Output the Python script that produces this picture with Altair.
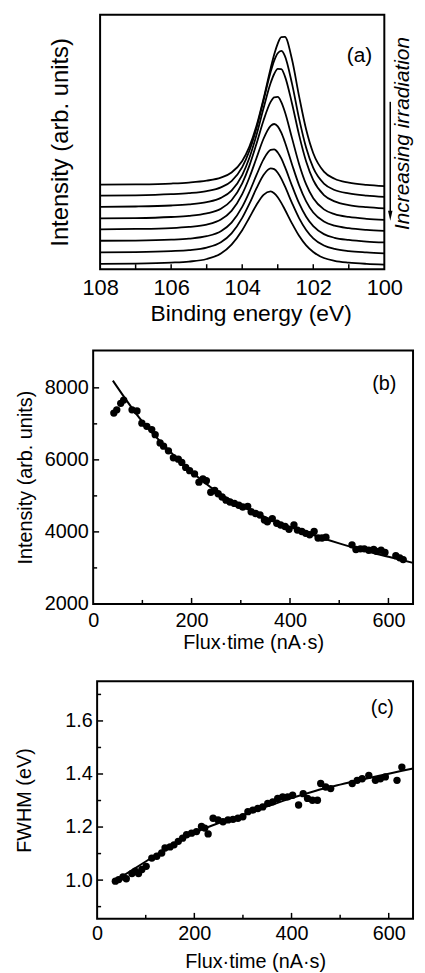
import altair as alt
import pandas as pd

FONT = "Liberation Sans"

# ---------------- Panel (a): spectra (arb. units) ----------------
energy_ev = [108, 107, 106, 105.5, 105, 104.6, 104.3, 104.0, 103.8, 103.6, 103.4, 103.2, 103.1,
             103.0, 102.9, 102.8, 102.6, 102.4, 102.2, 102.0, 101.7, 101.4, 101.0, 100.5, 100]
spec_1 = [85.3, 85.6, 86.5, 87.5, 89.4, 92.5, 97.7, 109.3, 123.5, 144.5, 172.1, 202.8, 216.7,
          227.8, 234.3, 234.5, 212.0, 174.8, 141.0, 117.1, 98.5, 91.3, 87.4, 85.1, 83.8]
spec_2 = [74.3, 74.6, 75.7, 76.8, 78.9, 82.6, 89.0, 103.0, 119.3, 142.1, 170.4, 199.1, 210.6,
          218.1, 220.4, 215.5, 187.6, 152.3, 122.6, 102.2, 86.4, 80.0, 76.5, 74.3, 73.0]
spec_3 = [63.0, 63.3, 64.3, 65.5, 67.8, 72.0, 79.4, 95.0, 112.2, 135.3, 162.5, 188.0, 197.1,
          202.2, 202.0, 195.0, 167.6, 135.6, 108.7, 89.9, 74.8, 68.5, 64.8, 62.6, 61.3]
spec_4 = [51.3, 51.6, 52.7, 53.8, 56.3, 61.0, 69.6, 86.6, 104.3, 126.5, 150.2, 168.9, 173.6,
          173.9, 168.7, 159.0, 132.6, 106.3, 85.6, 71.6, 60.4, 55.6, 52.7, 50.8, 49.7]
spec_5 = [40.3, 40.6, 41.5, 42.7, 45.0, 50.1, 58.9, 75.8, 92.3, 112.0, 131.7, 144.7, 146.6,
          144.2, 137.8, 128.5, 106.0, 84.9, 68.5, 57.2, 48.1, 43.9, 41.4, 39.7, 38.7]
spec_6 = [28.7, 28.9, 29.8, 30.9, 33.3, 38.4, 47.1, 62.9, 77.8, 94.9, 110.9, 120.4, 121.0,
          117.9, 111.8, 103.5, 84.4, 66.6, 52.9, 43.4, 35.4, 31.7, 29.5, 27.9, 27.0]
spec_7 = [17.0, 17.3, 18.3, 19.3, 21.8, 27.2, 36.2, 51.8, 65.9, 81.5, 95.1, 101.8, 101.0,
          97.4, 91.4, 83.8, 67.0, 51.6, 39.6, 31.2, 23.9, 20.4, 18.2, 16.9, 16.0]
spec_8 = [5.3, 5.6, 6.6, 7.7, 10.3, 15.9, 24.9, 39.4, 51.9, 64.8, 75.1, 78.6, 76.7,
          72.7, 67.0, 60.3, 46.3, 33.7, 24.0, 17.3, 11.3, 8.4, 6.6, 5.4, 4.7]
spectra = [spec_1, spec_2, spec_3, spec_4, spec_5, spec_6, spec_7, spec_8]
a_tick_labels = [108, 106, 104, 102, 100]
a_ticks = [107, 106, 105, 104, 103, 102, 101]

# ---------------- Panel (b): intensity vs flux*time ----------------
flux_b = [42, 48, 56, 62, 79, 89, 99, 109, 119, 126, 136, 143, 153, 163, 173, 180, 188, 196,
          206, 215, 223, 230, 239, 247, 254, 262, 270, 278, 287, 296, 304, 314, 321, 330, 339,
          348, 354, 364, 373, 381, 390, 398, 408, 415, 424, 432, 440, 449, 457, 465, 473, 526,
          534, 543, 551, 560, 570, 576, 585, 593, 615, 623, 630]
int_b = [7300, 7390, 7570, 7660, 7390, 7360, 7020, 6930, 6840, 6700, 6470, 6380, 6250, 6060,
         6020, 5930, 5790, 5700, 5610, 5380, 5470, 5420, 5100, 5150, 5060, 4970, 4880, 4830,
         4790, 4740, 4690, 4710, 4560, 4510, 4470, 4330, 4280, 4370, 4240, 4190, 4150, 4070,
         4190, 4050, 4010, 3960, 3920, 4010, 3830, 3830, 3850, 3640, 3510, 3530, 3530, 3490,
         3510, 3460, 3490, 3430, 3340, 3280, 3230]
fit_b_flux = [40, 100, 150, 200, 250, 300, 350, 400, 450, 500, 550, 600, 650]
fit_b_int = [8200, 7060, 6320, 5670, 5130, 4730, 4410, 4140, 3900, 3680, 3480, 3310, 3140]
b_x_labels = [0, 200, 400, 600]
b_y_labels = [2000, 4000, 6000, 8000]
b_x_major = [200, 400, 600]
b_x_minor = [100, 300, 500]
b_y_major = [4000, 6000, 8000]
b_y_minor = [3000, 5000, 7000]

# ---------------- Panel (c): FWHM vs flux*time ----------------
flux_c = [37.5, 44.3, 53.2, 60, 71.6, 78.4, 85.2, 92, 100.9, 112.5, 122.7, 132.9, 139.7, 150,
          158.2, 167, 175.9, 184, 194.3, 204.5, 214.7, 221.5, 228.4, 238.6, 248.8, 259, 269.3,
          279.5, 289.7, 299.9, 310.2, 320.4, 330.6, 340.8, 351, 361.3, 371.5, 381.7, 392,
          402.2, 414.5, 424, 432.9, 443, 453.3, 460, 470.3, 480.6, 524.9, 535.1, 545.3, 559,
          572.6, 582.8, 593, 617, 627]
fwhm_c = [0.996, 1.002, 1.012, 1.005, 1.025, 1.034, 1.025, 1.040, 1.052, 1.083, 1.090, 1.102,
          1.121, 1.125, 1.133, 1.146, 1.158, 1.171, 1.177, 1.183, 1.202, 1.196, 1.174, 1.233,
          1.227, 1.220, 1.227, 1.229, 1.233, 1.239, 1.258, 1.264, 1.270, 1.276, 1.289, 1.295,
          1.308, 1.314, 1.314, 1.320, 1.283, 1.326, 1.308, 1.301, 1.301, 1.364, 1.351, 1.345,
          1.364, 1.376, 1.382, 1.395, 1.376, 1.382, 1.389, 1.376, 1.426]
fit_c_flux = [37, 100, 150, 200, 250, 300, 350, 400, 450, 500, 550, 600, 650]
fit_c_fwhm = [0.997, 1.070, 1.128, 1.178, 1.215, 1.246, 1.278, 1.309, 1.337, 1.360, 1.381, 1.401, 1.421]
c_x_labels = [0, 200, 400, 600]
c_y_labels = [1.0, 1.2, 1.4, 1.6]
c_x_major = [200, 400, 600]
c_x_minor = [100, 300, 500]
c_y_major = [1.0, 1.2, 1.4, 1.6]
c_y_minor = [0.9, 1.1, 1.3, 1.5, 1.7]

# ---------------- helpers ----------------
one = pd.DataFrame({"k": [0]})


def axis(**kw):
    base = dict(grid=False, domain=False, ticks=False, tickSize=0, labelFlush=False,
                labelFont=FONT, titleFont=FONT, labelColor="black", titleColor="black",
                titleFontWeight="normal")
    base.update(kw)
    return alt.Axis(**base)


def frame(x0, x1, y0, y1):
    return alt.Chart(one).mark_rect(fillOpacity=0, stroke="black", strokeWidth=2).encode(
        x=alt.value(x0), x2=alt.value(x1), y=alt.value(y0), y2=alt.value(y1))


def xticks(vals, field, title, h, length):
    return alt.Chart(pd.DataFrame({field: vals})).mark_rule(color="black", strokeWidth=1.5).encode(
        x=alt.X(f"{field}:Q", title=title), y=alt.value(h), y2=alt.value(h - length))


def yticks(vals, field, title, x0, length):
    return alt.Chart(pd.DataFrame({field: vals})).mark_rule(color="black", strokeWidth=1.5).encode(
        y=alt.Y(f"{field}:Q", title=title), x=alt.value(x0), x2=alt.value(x0 + length))


def label(txt, x, y, size):
    return alt.Chart(one).mark_text(text=txt, font=FONT, fontSize=size, color="black",
                                    align="center", baseline="middle").encode(
        x=alt.value(x), y=alt.value(y))


# ---------------- panel (a) ----------------
rows = []
for k, s in enumerate(spectra):
    for e, v in zip(energy_ev, s):
        rows.append({"E": e, "I": v, "curve": k})
df_a = pd.DataFrame(rows)

TA_X = "Binding energy (eV)"
TA_Y = "Intensity (arb. units)"
lines_a = alt.Chart(df_a).mark_line(color="black", strokeWidth=1.8, interpolate="monotone").encode(
    x=alt.X("E:Q", title=TA_X,
            scale=alt.Scale(domain=[100, 108], range=[294, 7], nice=False, zero=False),
            axis=axis(values=a_tick_labels, format="d", labelFontSize=22, titleFontSize=23,
                      labelPadding=9, titlePadding=3.5, titleX=159)),
    y=alt.Y("I:Q", title=TA_Y, scale=alt.Scale(domain=[0, 257], nice=False, zero=False),
            axis=axis(labels=False, titleFontSize=24, titlePadding=21)),
    detail="curve:N",
)
irr_text = alt.Chart(one).mark_text(text="Increasing irradiation", font=FONT, fontSize=21,
                                    fontStyle="italic", angle=270, align="center",
                                    baseline="middle", color="black").encode(
    x=alt.value(313), y=alt.value(120))
arrow_line = alt.Chart(one).mark_rule(color="black", strokeWidth=1.5).encode(
    x=alt.value(300), y=alt.value(88), y2=alt.value(200))
arrow_head = alt.Chart(one).mark_point(shape="M-0.45,-1L0.45,-1L0,1Z", filled=True, size=100,
                                       color="black", opacity=1).encode(
    x=alt.value(300), y=alt.value(203))

panel_a = alt.layer(
    lines_a,
    xticks(a_ticks, "E", TA_X, 257, 5),
    frame(7, 294, 0, 257),
    label("(a)", 269, 42, 21),
    irr_text, arrow_line, arrow_head,
).properties(width=323, height=257)

# ---------------- panel (b) ----------------
TB_X = "Flux·time (nA·s)"
TB_Y = "Intensity (arb. units)"
sx_b = alt.Scale(domain=[0, 650], range=[0, 323], nice=False, zero=False)
sy_b = alt.Scale(domain=[2000, 9040], range=[260, 4], nice=False, zero=False)
df_b = pd.DataFrame({"t": flux_b, "v": int_b})
df_fb = pd.DataFrame({"t": fit_b_flux, "v": fit_b_int})
fit_line_b = alt.Chart(df_fb).mark_line(color="black", strokeWidth=2, interpolate="monotone").encode(
    x=alt.X("t:Q", title=TB_X, scale=sx_b,
            axis=axis(values=b_x_labels, format="d", labelFontSize=20, titleFontSize=20,
                      labelPadding=6.5, titlePadding=2.5)),
    y=alt.Y("v:Q", title=TB_Y, scale=sy_b,
            axis=axis(values=b_y_labels, format="d", labelFontSize=20, titleFontSize=20,
                      labelPadding=5, titlePadding=9)),
)
pts_b = alt.Chart(df_b).mark_circle(size=55, color="black", opacity=1).encode(
    x=alt.X("t:Q", title=TB_X), y=alt.Y("v:Q", title=TB_Y))
panel_b = alt.layer(
    fit_line_b, pts_b,
    xticks(b_x_major, "t", TB_X, 260, 6), xticks(b_x_minor, "t", TB_X, 260, 4),
    yticks(b_y_major, "v", TB_Y, 0, 6), yticks(b_y_minor, "v", TB_Y, 0, 4),
    frame(0, 323, 4, 260),
    label("(b)", 294, 38, 20),
).properties(width=323, height=260)

# ---------------- panel (c) ----------------
TC_X = "Flux·time (nA·s)"
TC_Y = "FWHM (eV)"
sx_c = alt.Scale(domain=[0, 650], range=[4, 323], nice=False, zero=False)
sy_c = alt.Scale(domain=[0.854, 1.75], nice=False, zero=False)
df_c = pd.DataFrame({"t": flux_c, "w": fwhm_c})
df_fc = pd.DataFrame({"t": fit_c_flux, "w": fit_c_fwhm})
fit_line_c = alt.Chart(df_fc).mark_line(color="black", strokeWidth=2, interpolate="monotone").encode(
    x=alt.X("t:Q", title=TC_X, scale=sx_c,
            axis=axis(values=c_x_labels, format="d", labelFontSize=20, titleFontSize=20,
                      labelPadding=4.5, titlePadding=9)),
    y=alt.Y("w:Q", title=TC_Y, scale=sy_c,
            axis=axis(values=c_y_labels, format=".1f", labelFontSize=20, titleFontSize=20,
                      labelPadding=1, titlePadding=30)),
)
pts_c = alt.Chart(df_c).mark_circle(size=55, color="black", opacity=1).encode(
    x=alt.X("t:Q", title=TC_X), y=alt.Y("w:Q", title=TC_Y))
panel_c = alt.layer(
    fit_line_c, pts_c,
    xticks(c_x_major, "t", TC_X, 240, 6), xticks(c_x_minor, "t", TC_X, 240, 4),
    yticks(c_y_major, "w", TC_Y, 4, 6), yticks(c_y_minor, "w", TC_Y, 4, 4),
    frame(4, 323, 0, 240),
    label("(c)", 292, 27, 20),
).properties(width=323, height=240)

chart = alt.vconcat(panel_a, panel_b, panel_c, spacing=78, bounds="flush").properties(
    padding={"left": 7, "top": 1, "right": 0, "bottom": 0},
    background="white",
).configure_view(strokeWidth=0)

chart.save("out.html", embed_options={"renderer": "svg", "actions": False})
